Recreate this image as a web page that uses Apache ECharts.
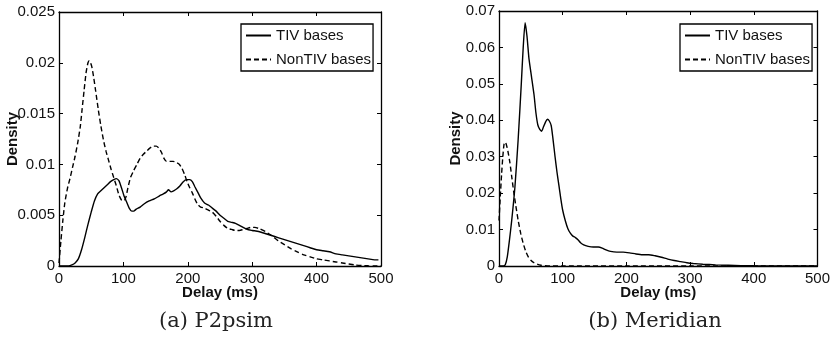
<!DOCTYPE html>
<html>
<head>
<meta charset="utf-8">
<script src="https://cdn.jsdelivr.net/npm/echarts@6/dist/echarts.min.js"></script>
<style>
html,body{margin:0;padding:0;background:#fff;}
#chart{width:833px;height:337px;}
</style>
</head>
<body>
<div id="chart"></div>
<script>
// ---- Data (delay in ms, density) ----
const seriesNames = ['TIV bases', 'NonTIV bases'];
const captions = ['(a) P2psim', '(b) Meridian'];
const xTicks = [0, 100, 200, 300, 400, 500];
const p2psimYTicks = [0, 0.005, 0.01, 0.015, 0.02, 0.025];
const meridianYTicks = [0, 0.01, 0.02, 0.03, 0.04, 0.05, 0.06, 0.07];

const p2psimTivX = [0,15,20,25,30,35,40,45,50,55,60,65,70,75,80,85,89,93,97,101,105,109,113,116,120,126,132,140,148,156,162,167,170,174,178,183,188,193,198,203,207,211,216,220,226,232,238,244,250,256,262,268,274,280,286,292,300,310,320,330,340,350,360,370,380,390,400,410,420,430,440,450,460,470,480,490,496];
const p2psimTivY = [0,0,0.0001,0.0003,0.0007,0.0016,0.0028,0.0041,0.0053,0.0064,0.0071,0.0074,0.0077,0.0080,0.0083,0.0085,0.0086,0.0084,0.0077,0.0069,0.0063,0.0057,0.0054,0.0054,0.0056,0.0058,0.0061,0.0064,0.0066,0.0069,0.0071,0.0073,0.0075,0.0073,0.0074,0.0076,0.0079,0.0083,0.0085,0.0085,0.0083,0.0078,0.0072,0.0067,0.0062,0.0060,0.0057,0.0054,0.0050,0.0047,0.0044,0.0043,0.0042,0.0040,0.0038,0.0036,0.0035,0.0034,0.0032,0.0030,0.0028,0.0026,0.0024,0.0022,0.0020,0.0018,0.0016,0.0015,0.0014,0.0012,0.0011,0.0010,0.0009,0.0008,0.0007,0.0006,0.0006];

const p2psimNonTivX = [0,3,6,9,13,17,21,25,29,33,36,39,42,45,47,49,51,54,57,61,65,69,73,77,81,85,89,93,97,101,104,107,111,116,121,126,131,136,141,146,151,155,159,163,167,172,177,182,187,191,195,199,203,207,211,215,220,226,232,238,244,250,256,262,268,274,280,286,292,298,304,310,320,330,340,350,360,370,380,390,400,410,420,430,440,450,460,470,480,490,500];
const p2psimNonTivY = [0.0003,0.0025,0.0045,0.0062,0.0076,0.0086,0.0097,0.0108,0.0121,0.0137,0.0155,0.0173,0.0190,0.0200,0.0202,0.0200,0.0196,0.0185,0.0172,0.0154,0.0138,0.0124,0.0113,0.0104,0.0095,0.0087,0.0079,0.0070,0.0065,0.0064,0.0068,0.0077,0.0087,0.0094,0.0100,0.0106,0.0110,0.0113,0.0116,0.0118,0.0118,0.0116,0.0112,0.0106,0.0103,0.0103,0.0103,0.0102,0.0100,0.0096,0.0090,0.0083,0.0077,0.0072,0.0066,0.0061,0.0058,0.0057,0.0055,0.0053,0.0049,0.0044,0.0040,0.0037,0.0036,0.0035,0.0035,0.0036,0.0037,0.0038,0.0038,0.0037,0.0034,0.0030,0.0025,0.0021,0.0017,0.0014,0.0011,0.0009,0.0007,0.0006,0.0005,0.0004,0.0003,0.0002,0.0001,0.00005,0.00002,0,0];

const meridianTivX = [0,7,10,13,16,20,25,30,35,38,41,44,47,51,55,58,61,64,67,70,73,76,79,82,85,88,91,94,97,100,104,108,112,116,120,124,128,133,140,148,156,162,168,175,185,195,205,215,225,235,245,255,265,275,285,295,305,320,340,360,380,400,450,500];
const meridianTivY = [0,0,0.0004,0.0025,0.0065,0.0126,0.0217,0.0345,0.0500,0.0600,0.0668,0.0630,0.0570,0.0520,0.0470,0.0420,0.0387,0.0375,0.0370,0.0383,0.0395,0.0403,0.0398,0.0385,0.0345,0.0300,0.0258,0.0222,0.0185,0.0153,0.0125,0.0103,0.0090,0.0082,0.0078,0.0072,0.0064,0.0058,0.0054,0.0052,0.0052,0.0049,0.0044,0.0040,0.0038,0.0038,0.0036,0.0033,0.0031,0.0031,0.0028,0.0024,0.0019,0.0015,0.0012,0.0009,0.0007,0.0005,0.0003,0.0002,0.0001,0.00006,0.00002,0];

const meridianNonTivX = [0,2,4,6,8,10,12,14,17,20,23,26,30,34,38,42,46,50,55,60,66,72,80,100,200,300,400,500];
const meridianNonTivY = [0.0125,0.019,0.025,0.030,0.0335,0.0340,0.0330,0.0315,0.0285,0.0245,0.0205,0.0170,0.0126,0.0090,0.0062,0.0040,0.0025,0.0016,0.0009,0.0005,0.0002,0.0001,0.00003,0,0,0,0,0];

// ---- Build ----
const pairs = (xs, ys) => xs.map((x, i) => [x, ys[i]]);
const FONT = '"Liberation Sans", Arial, Helvetica, sans-serif';
const TXT = '#111';

function xAx(grid, pos, labels) {
  return {
    type: 'value', gridIndex: grid, position: pos, min: xTicks[0], max: xTicks[xTicks.length - 1],
    interval: xTicks[1] - xTicks[0],
    name: labels ? 'Delay (ms)' : '', nameLocation: 'middle', nameGap: 19, nameMoveOverlap: false,
    nameTextStyle: { fontFamily: FONT, fontWeight: 'bold', fontSize: 15, color: TXT },
    axisLine: { show: true, onZero: false, lineStyle: { color: '#000', width: 1.3 } },
    axisTick: { show: true, inside: true, length: 4, lineStyle: { color: '#000', width: 1 } },
    axisLabel: { show: labels, fontFamily: FONT, fontSize: 15, color: TXT, margin: 5 },
    splitLine: { show: false }
  };
}
function yAx(grid, pos, labels, ticks, gap) {
  return {
    type: 'value', gridIndex: grid, position: pos, min: ticks[0], max: ticks[ticks.length - 1],
    interval: ticks[1] - ticks[0],
    name: labels ? 'Density' : '', nameLocation: 'middle', nameGap: gap || 39, nameMoveOverlap: false,
    nameTextStyle: { fontFamily: FONT, fontWeight: 'bold', fontSize: 15, color: TXT },
    axisLine: { show: true, onZero: false, lineStyle: { color: '#000', width: 1.3 } },
    axisTick: { show: true, inside: true, length: 4, lineStyle: { color: '#000', width: 1 } },
    axisLabel: { show: labels, fontFamily: FONT, fontSize: 15, color: TXT, margin: 4,
      formatter: v => String(+v.toFixed(4)) },
    splitLine: { show: false }
  };
}
function line(name, xi, yi, data, dashed) {
  return {
    type: 'line', name: name, xAxisIndex: xi, yAxisIndex: yi, data: data,
    symbol: 'none', showSymbol: false, smooth: 0.2, silent: true,
    lineStyle: { color: '#000', width: 1.4, type: dashed ? [5, 3] : 'solid' },
    itemStyle: { color: '#000' }
  };
}
function legend(left) {
  return {
    left: left, top: 24, orient: 'vertical', selectedMode: false,
    data: seriesNames, itemWidth: 25, itemHeight: 14, itemGap: 9,
    padding: [4, 2, 4, 4], borderColor: '#000', borderWidth: 1.3, backgroundColor: '#fff',
    itemStyle: { color: 'rgba(0,0,0,0)', borderWidth: 0, opacity: 0 },
    textStyle: { fontFamily: FONT, fontSize: 15, color: TXT }
  };
}

const option = {
  animation: false,
  backgroundColor: '#fff',
  grid: [
    { left: 59, top: 12, width: 322, height: 254 },
    { left: 499, top: 11, width: 322, height: 255 }
  ],
  xAxis: [xAx(0, 'bottom', true), xAx(0, 'top', false), xAx(1, 'bottom', true), xAx(1, 'top', false)],
  yAxis: [yAx(0, 'left', true, p2psimYTicks, 39), yAx(0, 'right', false, p2psimYTicks),
          yAx(1, 'left', true, meridianYTicks, 36), yAx(1, 'right', false, meridianYTicks)],
  legend: [legend(241), legend(680)],
  series: [
    line(seriesNames[0], 0, 0, pairs(p2psimTivX, p2psimTivY), false),
    line(seriesNames[1], 0, 0, pairs(p2psimNonTivX, p2psimNonTivY), true),
    line(seriesNames[0], 2, 2, pairs(meridianTivX, meridianTivY), false),
    line(seriesNames[1], 2, 2, pairs(meridianNonTivX, meridianNonTivY), true)
  ],
  graphic: [
    { type: 'text', x: 216, y: 322, style: { text: captions[0], font: '21px "DejaVu Serif", serif', fill: '#222', align: 'center', verticalAlign: 'middle' } },
    { type: 'text', x: 655, y: 322, style: { text: captions[1], font: '21px "DejaVu Serif", serif', fill: '#222', align: 'center', verticalAlign: 'middle' } }
  ]
};

const chart = echarts.init(document.getElementById('chart'), null, { renderer: 'canvas' });
chart.setOption(option);
</script>
</body>
</html>
